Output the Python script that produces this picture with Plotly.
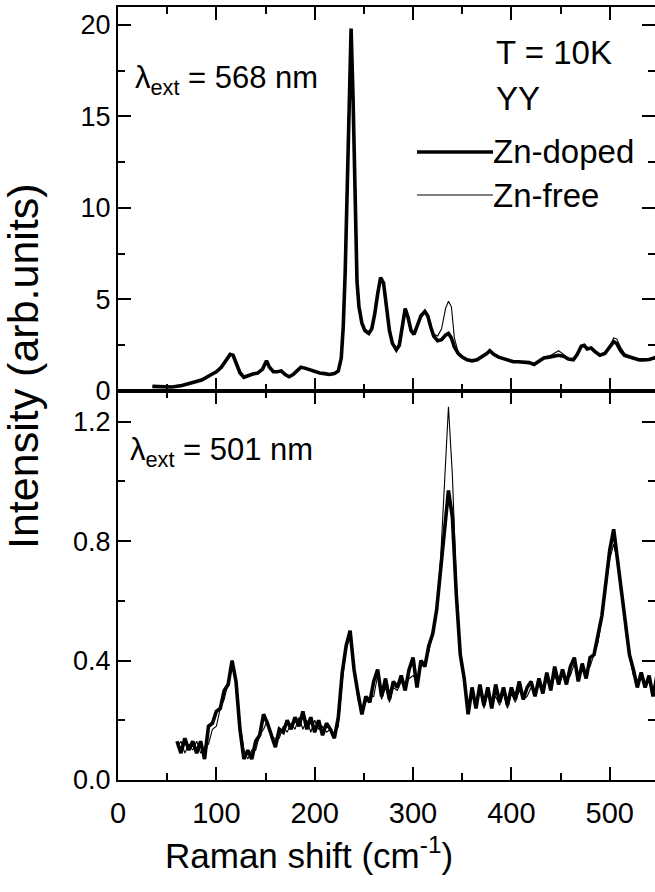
import plotly.graph_objects as go

# ---------------- top panel (lambda_ext = 568 nm) ----------------
x_top = [35, 45, 55, 65, 75, 85, 95, 100, 105, 110,
         114, 117, 120, 124, 128, 132, 137, 142, 147, 151,
         154, 158, 162, 166, 170, 174, 178, 182, 186, 190,
         195, 200, 205, 210, 215, 220, 224, 227, 229, 231,
         233, 235, 237, 239, 241, 243, 245, 248, 251, 255,
         258, 261, 264, 267, 270, 273, 276, 279, 283, 286,
         289, 292, 295, 298, 301, 304, 308, 312, 315, 318,
         321, 325, 329, 333, 336, 339, 342, 346, 350, 355,
         360, 365, 370, 375, 378, 382, 387, 392, 397, 402,
         407, 413, 418, 423, 428, 433, 438, 443, 448, 453,
         458, 463, 467, 471, 474, 477, 481, 485, 490, 495,
         500, 504, 507, 511, 515, 520, 525, 530, 535, 540,
         545, 548]

top_doped = [0.25, 0.22, 0.22, 0.30, 0.45, 0.60, 0.90, 1.05, 1.30, 1.70,
             2.00, 1.95, 1.50, 1.00, 0.75, 0.85, 0.93, 0.98, 1.20, 1.65,
             1.30, 1.05, 1.05, 1.10, 0.90, 0.78, 0.90, 1.10, 1.30, 1.25,
             1.15, 1.05, 0.98, 0.95, 0.90, 0.95, 1.10, 1.80, 3.50, 6.50,
             11.0, 16.5, 19.8, 16.0, 9.5, 6.0, 4.6, 3.7, 3.3, 3.15,
             3.40, 4.20, 5.30, 6.20, 5.90, 4.50, 3.30, 2.60, 2.25, 2.50,
             3.60, 4.50, 4.00, 3.30, 3.10, 3.50, 4.10, 4.35, 4.10, 3.50,
             3.00, 2.75, 2.80, 3.05, 3.15, 2.90, 2.40, 2.05, 1.85, 1.70,
             1.65, 1.70, 1.85, 2.05, 2.20, 2.00, 1.85, 1.75, 1.65, 1.60,
             1.60, 1.55, 1.55, 1.45, 1.60, 1.80, 1.85, 1.90, 1.95, 1.90,
             1.75, 1.70, 2.00, 2.45, 2.50, 2.30, 2.35, 2.15, 1.95, 2.05,
             2.40, 2.70, 2.60, 2.20, 1.95, 1.85, 1.75, 1.70, 1.70, 1.72,
             1.80, 1.85]

top_free = [0.24, 0.23, 0.21, 0.31, 0.44, 0.62, 0.88, 1.07, 1.28, 1.72,
            1.98, 1.97, 1.52, 1.02, 0.77, 0.84, 0.95, 0.97, 1.22, 1.62,
            1.32, 1.07, 1.03, 1.12, 0.92, 0.80, 0.88, 1.08, 1.28, 1.27,
            1.13, 1.03, 1.00, 0.93, 0.92, 0.97, 1.12, 1.75, 3.40, 6.40,
            10.8, 16.2, 19.6, 16.5, 9.8, 6.1, 4.7, 3.8, 3.4, 3.2,
            3.45, 4.15, 5.20, 6.10, 5.85, 4.45, 3.35, 2.65, 2.30, 2.55,
            3.55, 4.45, 4.05, 3.35, 3.15, 3.55, 4.05, 4.30, 4.15, 3.60,
            3.10, 3.00, 3.40, 4.50, 4.90, 4.60, 2.90, 2.10, 1.88, 1.72,
            1.67, 1.72, 1.87, 2.07, 2.18, 2.02, 1.87, 1.77, 1.67, 1.62,
            1.62, 1.57, 1.53, 1.47, 1.62, 1.82, 1.88, 2.05, 2.20, 2.00,
            1.78, 1.72, 2.02, 2.42, 2.48, 2.32, 2.33, 2.17, 1.97, 2.08,
            2.45, 2.90, 2.85, 2.40, 2.05, 1.88, 1.78, 1.72, 1.72, 1.74,
            1.82, 1.87]

# ---------------- bottom panel (lambda_ext = 501 nm) ----------------
x_bot = [60, 64, 68, 72, 76, 80, 84, 88, 92, 96,
         100, 104, 108, 112, 116, 120, 124, 128, 132, 136,
         140, 144, 148, 152, 156, 160, 164, 168, 172, 176,
         180, 184, 188, 192, 196, 200, 204, 208, 212, 216,
         220, 224, 228, 232, 236, 240, 244, 248, 252, 256,
         260, 264, 268, 272, 276, 280, 284, 288, 292, 296,
         300, 304, 308, 312, 316, 320, 324, 328, 332, 336,
         340, 344, 348, 352, 356, 360, 364, 368, 372, 376,
         380, 384, 388, 392, 396, 400, 404, 408, 412, 416,
         420, 424, 428, 432, 436, 440, 444, 448, 452, 456,
         460, 464, 468, 472, 476, 480, 484, 488, 492, 496,
         500, 504, 508, 512, 516, 520, 524, 528, 532, 536,
         540, 544, 548]

bot_doped = [0.13, 0.09, 0.14, 0.10, 0.13, 0.09, 0.13, 0.07, 0.18, 0.19,
             0.23, 0.24, 0.30, 0.32, 0.40, 0.33, 0.17, 0.07, 0.10, 0.07,
             0.13, 0.15, 0.22, 0.19, 0.15, 0.11, 0.17, 0.16, 0.20, 0.17,
             0.21, 0.18, 0.23, 0.17, 0.21, 0.16, 0.20, 0.15, 0.19, 0.17,
             0.14, 0.21, 0.36, 0.45, 0.50, 0.37, 0.29, 0.22, 0.28, 0.26,
             0.33, 0.37, 0.28, 0.34, 0.27, 0.33, 0.31, 0.35, 0.30, 0.37,
             0.41, 0.31, 0.40, 0.38, 0.45, 0.49, 0.57, 0.70, 0.86, 0.97,
             0.88, 0.62, 0.42, 0.34, 0.22, 0.31, 0.24, 0.32, 0.25, 0.31,
             0.24, 0.32, 0.26, 0.31, 0.25, 0.31, 0.27, 0.33, 0.27, 0.31,
             0.33, 0.28, 0.34, 0.29, 0.36, 0.30, 0.38, 0.32, 0.37, 0.32,
             0.38, 0.41, 0.33, 0.39, 0.34, 0.41, 0.42, 0.48, 0.55, 0.66,
             0.77, 0.84, 0.74, 0.64, 0.52, 0.42, 0.37, 0.31, 0.36, 0.31,
             0.35, 0.28, 0.35]

bot_free = [0.11, 0.13, 0.09, 0.12, 0.10, 0.13, 0.09, 0.11, 0.12, 0.17,
            0.18, 0.24, 0.27, 0.33, 0.38, 0.33, 0.19, 0.10, 0.07, 0.10,
            0.10, 0.15, 0.17, 0.20, 0.14, 0.14, 0.14, 0.18, 0.16, 0.19,
            0.17, 0.21, 0.17, 0.20, 0.16, 0.20, 0.17, 0.18, 0.16, 0.17,
            0.15, 0.18, 0.33, 0.44, 0.48, 0.37, 0.27, 0.23, 0.26, 0.28,
            0.28, 0.35, 0.27, 0.31, 0.26, 0.31, 0.30, 0.33, 0.32, 0.34,
            0.35, 0.33, 0.38, 0.39, 0.43, 0.49, 0.57, 0.74, 0.98, 1.25,
            1.02, 0.66, 0.43, 0.32, 0.25, 0.29, 0.25, 0.30, 0.24, 0.29,
            0.26, 0.28, 0.25, 0.29, 0.24, 0.29, 0.26, 0.30, 0.27, 0.28,
            0.31, 0.29, 0.32, 0.29, 0.34, 0.30, 0.35, 0.32, 0.35, 0.33,
            0.35, 0.39, 0.35, 0.37, 0.36, 0.38, 0.42, 0.46, 0.54, 0.64,
            0.74, 0.79, 0.73, 0.63, 0.50, 0.42, 0.35, 0.33, 0.34, 0.32,
            0.33, 0.30, 0.33]

x_ticks = [0, 100, 200, 300, 400, 500]
top_y_ticks = [0, 5, 10, 15, 20]
bot_y_ticks = [0.0, 0.4, 0.8, 1.2]

FONT = "Liberation Sans, Arial, Helvetica, sans-serif"
THICK = 3.6
THIN = 1.1

fig = go.Figure()

# thin (Zn-free) drawn first, thick (Zn-doped) on top
fig.add_trace(go.Scatter(x=x_top, y=top_free, mode="lines", xaxis="x2", yaxis="y2",
                         line=dict(color="black", width=THIN), showlegend=False))
fig.add_trace(go.Scatter(x=x_top, y=top_doped, mode="lines", xaxis="x2", yaxis="y2",
                         line=dict(color="black", width=THICK), showlegend=False))
fig.add_trace(go.Scatter(x=x_bot, y=bot_free, mode="lines", xaxis="x", yaxis="y",
                         line=dict(color="black", width=THIN), showlegend=False))
fig.add_trace(go.Scatter(x=x_bot, y=bot_doped, mode="lines", xaxis="x", yaxis="y",
                         line=dict(color="black", width=THICK), showlegend=False))

axis_common = dict(showline=True, linecolor="black", linewidth=2, mirror="allticks",
                   ticks="inside", tickwidth=2, tickcolor="black", showgrid=False,
                   zeroline=False)

split = 389 / 773

fig.update_layout(
    width=655, height=892,
    margin=dict(l=118, r=0, t=7, b=112, autoexpand=False),
    paper_bgcolor="white", plot_bgcolor="white",
    font=dict(family=FONT, color="black"),
    xaxis=dict(**axis_common, range=[0, 546], domain=[0, 1], anchor="y",
               tickvals=x_ticks, ticklen=13, ticklabelstandoff=6,
               minor=dict(dtick=50, ticklen=7, ticks="inside", tickwidth=2, tickcolor="black"),
               tickfont=dict(size=29, family=FONT)),
    yaxis=dict(**axis_common, range=[0, 1.303], domain=[0, split], anchor="x",
               tickvals=bot_y_ticks, ticktext=["0.0", "0.4", "0.8", "1.2"], ticklen=13,
               minor=dict(dtick=0.2, ticklen=7, ticks="inside", tickwidth=2, tickcolor="black"),
               tickfont=dict(size=27, family=FONT)),
    xaxis2=dict(**axis_common, range=[0, 546], domain=[0, 1], anchor="y2",
                tickvals=x_ticks, ticklen=13, showticklabels=False,
                minor=dict(dtick=50, ticklen=7, ticks="inside", tickwidth=2, tickcolor="black")),
    yaxis2=dict(**axis_common, range=[0, 20.98], domain=[split, 1], anchor="x2",
                tickvals=top_y_ticks, ticklen=13,
                minor=dict(dtick=2.5, ticklen=7, ticks="inside", tickwidth=2, tickcolor="black"),
                tickfont=dict(size=27, family=FONT)),
)

def px_x(p):
    return (p - 118) / 537

def px_y(p):
    return (780 - p) / 773

annots = [
    dict(text="λ<sub>ext</sub> = 568 nm", x=px_x(133), y=px_y(80), size=31),
    dict(text="λ<sub>ext</sub> = 501 nm", x=px_x(128), y=px_y(452), size=31),
    dict(text="T = 10K", x=px_x(494), y=px_y(52), size=33),
    dict(text="YY", x=px_x(494), y=px_y(98), size=33),
    dict(text="Zn-doped", x=px_x(491), y=px_y(152), size=33),
    dict(text="Zn-free", x=px_x(491), y=px_y(195), size=33),
]
for a in annots:
    fig.add_annotation(text=a["text"], x=a["x"], y=a["y"], xref="paper", yref="paper",
                       xanchor="left", yanchor="middle", showarrow=False,
                       font=dict(size=a["size"], family=FONT, color="black"))

# axis titles
fig.add_annotation(text="Intensity (arb.units)", x=px_x(23), y=px_y(366),
                   xref="paper", yref="paper", textangle=-90, showarrow=False,
                   xanchor="center", yanchor="middle",
                   font=dict(size=43, family=FONT, color="black"))
fig.add_annotation(text="Raman shift (cm<sup>-1</sup>)", x=px_x(309), y=px_y(853),
                   xref="paper", yref="paper", showarrow=False,
                   xanchor="center", yanchor="middle",
                   font=dict(size=35, family=FONT, color="black"))

# legend key lines
fig.add_shape(type="line", xref="paper", yref="paper", x0=px_x(417), x1=px_x(493),
              y0=px_y(152), y1=px_y(152), line=dict(color="black", width=THICK))
fig.add_shape(type="line", xref="paper", yref="paper", x0=px_x(417), x1=px_x(493),
              y0=px_y(195), y1=px_y(195), line=dict(color="black", width=THIN))

fig.write_html("out.html", config={"displayModeBar": False},
               post_script="document.body.style.margin='0';document.body.style.padding='0';")
